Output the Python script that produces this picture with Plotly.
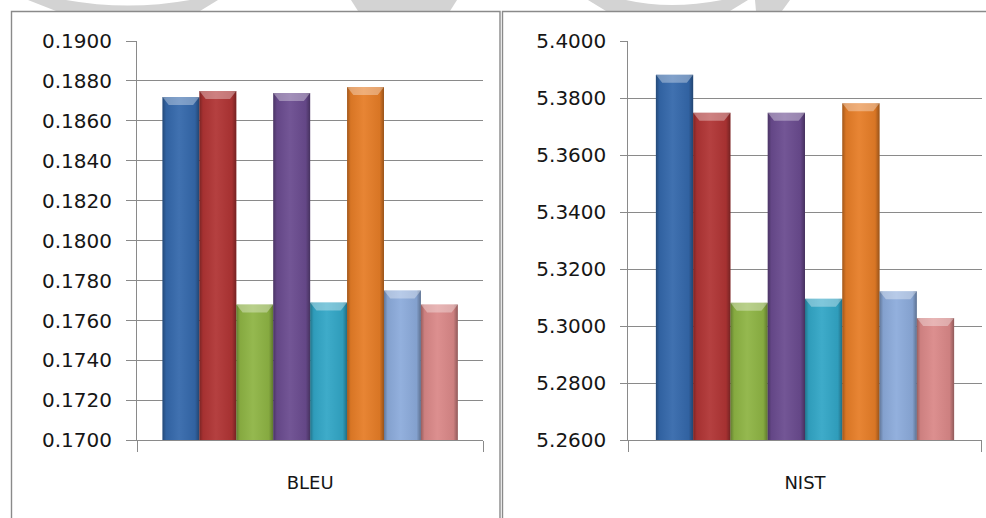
import plotly.graph_objects as go

# Scores of the eight systems on each metric
systems = ["S1", "S2", "S3", "S4", "S5", "S6", "S7", "S8"]
bleu = [0.1872, 0.1875, 0.1768, 0.1874, 0.1769, 0.1877, 0.1775, 0.1768]
nist = [5.3882, 5.3748, 5.3082, 5.3748, 5.3096, 5.3782, 5.3123, 5.3029]
colors = ["#3468AB", "#B03434", "#8EB444", "#6A4B8F",
          "#32A6C6", "#E67D27", "#8CABDB", "#DA8888"]

bleu_ticks = dict(lo=0.17, hi=0.19, step=0.002)
nist_ticks = dict(lo=5.26, hi=5.40, step=0.02)

W, H = 986, 518
GRID = "#8a8a8a"
FONT = dict(family="DejaVu Sans", size=20, color="#161616")


def px(x, y):
    return x / W, 1 - y / H


fig = go.Figure()

panels = [
    dict(name="BLEU", vals=bleu, ax="", ticks=bleu_ticks,
         dom=[137 / W, 483.3 / W], pad=0.69, ticklen=10),
    dict(name="NIST", vals=nist, ax="2", ticks=nist_ticks,
         dom=[628.3 / W, 981.7 / W], pad=0.74, ticklen=7),
]
ydom = [1 - 440.3 / H, 1 - 41 / H]
plot_h = 399.3

for p in panels:
    xa, ya = "x" + p["ax"], "y" + p["ax"]
    lo, hi = p["ticks"]["lo"], p["ticks"]["hi"]
    unit = (hi - lo) / plot_h  # data units per pixel
    xs = list(range(len(p["vals"])))
    # main bars
    fig.add_trace(go.Bar(
        x=xs, y=[v - lo for v in p["vals"]], base=lo, width=1.0,
        marker=dict(color=colors, line=dict(width=0)),
        xaxis=xa, yaxis=ya, showlegend=False, hoverinfo="skip"))
    # bevel shading on each bar
    for i, v in enumerate(p["vals"]):
        x0, x1 = i - 0.5, i + 0.5
        fig.add_trace(go.Scatter(
            x=[x0, x1, x1, x0, x0], y=[lo, lo, v, v, lo],
            fill="toself", mode="none", xaxis=xa, yaxis=ya,
            fillgradient=dict(type="horizontal", colorscale=[
                [0.0, "rgba(0,0,0,0.30)"], [0.10, "rgba(0,0,0,0.06)"],
                [0.45, "rgba(255,255,255,0.06)"], [0.88, "rgba(0,0,0,0.06)"],
                [1.0, "rgba(0,0,0,0.34)"]]),
            showlegend=False, hoverinfo="skip"))
        h = 8 * unit
        d = 0.17
        fig.add_trace(go.Scatter(
            x=[x0, x1, x1 - d, x0 + d, x0], y=[v, v, v - h, v - h, v],
            fill="toself", mode="none", xaxis=xa, yaxis=ya,
            fillcolor="rgba(255,255,255,0.34)",
            showlegend=False, hoverinfo="skip"))

    xr = [-0.5 - p["pad"], len(xs) - 0.5 + p["pad"]]
    fig.update_layout({
        "xaxis" + p["ax"]: dict(
            domain=p["dom"], range=xr, anchor=ya, automargin=False,
            tickmode="array", tickvals=[(len(xs) - 1) / 2], ticktext=[p["name"]],
            ticks="", showgrid=False, zeroline=False,
            showline=True, linecolor=GRID, linewidth=1,
            minor=dict(tickmode="array", tickvals=xr, ticks="outside",
                       ticklen=11, tickcolor=GRID, tickwidth=1),
            tickfont=dict(family="DejaVu Sans", size=18, color="#161616"),
            ticklabelstandoff=26, fixedrange=True),
        "yaxis" + p["ax"]: dict(
            domain=ydom, range=[lo, hi], anchor=xa, automargin=False,
            tick0=lo, dtick=p["ticks"]["step"], tickformat=".4f",
            ticks="outside", ticklen=p["ticklen"], tickcolor=GRID, tickwidth=1,
            showgrid=True, gridcolor=GRID, gridwidth=1.2, zeroline=False,
            showline=True, linecolor=GRID, linewidth=1,
            tickfont=FONT, ticklabelstandoff=10, fixedrange=True),
    })

shapes = []
# faint marks along the top edge of the page
wm = "#d3d3d3"
marks = [
    [(28, 0), (56, 11), (200, 11), (218, 0), (190, 0), ("Q", 128, 11, 66, 0)],
    [(351, 0), (457, 0), (450, 11), (358, 11)],
    [(588, 0), (606, 11), (730, 11), (748, 0), (722, 0), ("Q", 670, 10, 626, 0)],
    [(755, 0), (790, 0), (782, 11), (756, 11)],
]
for m in marks:
    parts = []
    for j, pt in enumerate(m):
        if pt[0] == "Q":
            cx, cy = px(pt[1], pt[2])
            ex, ey = px(pt[3], pt[4])
            parts.append(f"Q {cx:.5f},{cy:.5f} {ex:.5f},{ey:.5f}")
        else:
            X, Y = px(*pt)
            parts.append(("M" if j == 0 else "L") + f" {X:.5f},{Y:.5f}")
    shapes.append(dict(type="path", xref="paper", yref="paper",
                       path=" ".join(parts) + " Z", fillcolor=wm,
                       line=dict(width=0), layer="below"))

# chart frames
for x0, x1 in [(11.5, 500), (502.5, 995)]:
    a, b = px(x0, 11.5)
    c, _ = px(x1, 0)
    shapes.append(dict(type="rect", xref="paper", yref="paper",
                       x0=a, x1=c, y0=-0.05, y1=b,
                       line=dict(color="#8a8a8a", width=1.4),
                       fillcolor="rgba(0,0,0,0)", layer="below"))

fig.update_layout(
    width=W, height=H,
    margin=dict(l=0, r=0, t=0, b=0, pad=0, autoexpand=False),
    paper_bgcolor="white", plot_bgcolor="rgba(0,0,0,0)",
    barmode="overlay", showlegend=False, shapes=shapes,
    font=FONT,
)

fig.write_html("out.html")
